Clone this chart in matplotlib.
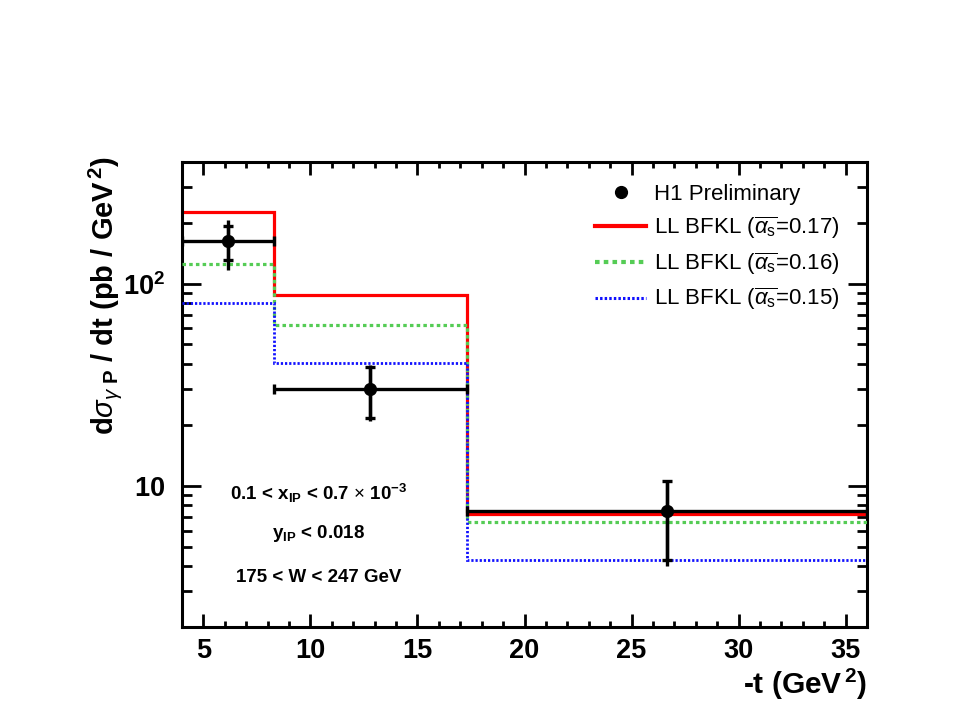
import matplotlib
matplotlib.use("Agg")
import matplotlib.pyplot as plt
from matplotlib.lines import Line2D
from matplotlib.ticker import LogLocator, MultipleLocator, NullFormatter
import numpy as np

plt.rcParams['font.family'] = ['Liberation Sans', 'DejaVu Sans']
plt.rcParams['mathtext.fontset'] = 'custom'
plt.rcParams['mathtext.rm'] = 'Liberation Sans'
plt.rcParams['mathtext.bf'] = 'Liberation Sans:bold'
plt.rcParams['mathtext.it'] = 'Liberation Sans:italic'
plt.rcParams['mathtext.sf'] = 'Liberation Sans'

# ---- data ----
bin_edges = [4.0, 8.3, 17.3, 36.0]
bfkl_017 = [225.0, 88.0, 7.25]
bfkl_016 = [125.0, 62.7, 6.6]
bfkl_015 = [80.0, 40.3, 4.3]

t_points = [6.15, 12.8, 26.65]
sigma = [162.0, 30.2, 7.47]
stat_hi = [194.0, 38.8, 10.5]
stat_lo = [131.0, 21.6, 4.3]
tot_hi = [207.0, 39.4, 10.6]
tot_lo = [117.0, 20.8, 4.02]

x_ticks = [5, 10, 15, 20, 25, 30, 35]

labels = ['H1 Preliminary',
          r'LL BFKL ($\overline{\alpha_{\mathrm{s}}}$=0.17)',
          r'LL BFKL ($\overline{\alpha_{\mathrm{s}}}$=0.16)',
          r'LL BFKL ($\overline{\alpha_{\mathrm{s}}}$=0.15)']

red = '#ff0000'
green = '#55cc55'
blue = '#1010ff'

fig = plt.figure(figsize=(9.59, 7.2), dpi=100)
ax = fig.add_axes([182/959, 93/720, 685/959, 465/720])

edges = np.array(bin_edges)
ax.stairs(bfkl_017, edges, baseline=None, color=red, lw=2.3, zorder=2)
ax.stairs(bfkl_016, edges, baseline=None, color=green, lw=2.3,
          linestyle=(0, (1.1, 1.0)), zorder=3)
ax.stairs(bfkl_015, edges, baseline=None, color=blue, lw=2.0,
          linestyle=(0, (0.8, 0.7)), zorder=4)

x = np.array(t_points)
y = np.array(sigma)
xerr = np.array([x - edges[:-1], edges[1:] - x])
yerr_stat = np.array([y - np.array(stat_lo), np.array(stat_hi) - y])
yerr_tot = np.array([y - np.array(tot_lo), np.array(tot_hi) - y])

ax.errorbar(x, y, yerr=yerr_tot, fmt='none', ecolor='black', elinewidth=2.4,
            capsize=0, zorder=5)
ax.errorbar(x, y, xerr=xerr, yerr=yerr_stat, fmt='o', color='black',
            ms=8.5, elinewidth=2.4, capsize=3.3, capthick=2.4, zorder=6)

ax.set_yscale('log')
ax.set_xlim(4, 36)
ax.set_ylim(2, 400)

ax.xaxis.set_minor_locator(MultipleLocator(1))
ax.yaxis.set_minor_locator(LogLocator(base=10, subs=np.arange(2, 10), numticks=20))
ax.yaxis.set_minor_formatter(NullFormatter())
ax.set_yticks([10, 100])
ax.set_yticklabels([r'$\mathbf{10}$', r'$\mathbf{10^{2}}$'])
ax.set_xticks(x_ticks)
ax.set_xticklabels([str(v) for v in x_ticks])

for sp in ax.spines.values():
    sp.set_linewidth(2.2)
ax.tick_params(which='both', direction='in', top=True, right=True, width=2.0)
ax.tick_params(axis='x', which='major', length=9.5, pad=8, labelsize=19.5)
ax.tick_params(axis='x', which='minor', length=4.5)
ax.tick_params(axis='y', which='major', length=14, pad=12, labelsize=19.5)
ax.tick_params(axis='y', which='minor', length=7)
for lab in ax.get_xticklabels():
    lab.set_fontweight('bold')

# axis titles
fig.text(867/959, 1 - 684/720, r'-t (GeV$^{\,\mathbf{2}}$)', ha='right', va='center',
         fontsize=21.5, fontweight='bold')
fig.text(105/959, 1 - 156/720,
         r'd$\sigma_{\gamma\ \mathbf{P}}$ / dt (pb / GeV$^{\,\mathbf{2}}$)',
         rotation=90, ha='center', va='top', fontsize=21, fontweight='bold')

# annotations
ann_text = [r'0.1 < x$_{\mathbf{IP}}$ < 0.7 $\times$ 10$^{\mathbf{-3}}$',
            r'y$_{\mathbf{IP}}$ < 0.018',
            '175 < W < 247 GeV']
ann_ypix = [493, 533, 577]
for txt, py in zip(ann_text, ann_ypix):
    fig.text(319/959, 1 - py/720, txt, fontsize=13.5, fontweight='bold',
             ha='center', va='center')

handles = [Line2D([], [], marker='o', ls='none', color='black', ms=8.5),
           Line2D([], [], color=red, lw=3.0),
           Line2D([], [], color=green, lw=3.0, linestyle=(0, (1.1, 1.0))),
           Line2D([], [], color=blue, lw=2.2, linestyle=(0, (0.8, 0.7)))]
ax.legend(handles, labels, loc='upper right', frameon=False, fontsize=16,
          bbox_to_anchor=(840/959, 1 - 184/720), bbox_transform=fig.transFigure,
          borderaxespad=0, borderpad=0, handlelength=2.3, handletextpad=0.36,
          labelspacing=0.42)

fig.savefig('out.png', dpi=100)
